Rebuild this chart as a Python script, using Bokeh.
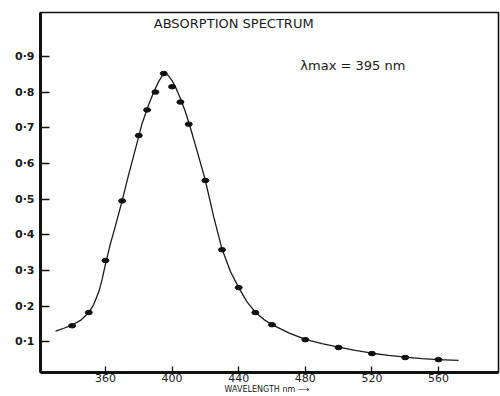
from bokeh.plotting import figure
from bokeh.models import Range1d, FixedTicker, Label
from bokeh.embed import file_html
from bokeh.resources import INLINE

# measured points (wavelength nm, absorbance)
pt_wl = [340, 350, 360, 370, 380, 385, 390, 395, 400, 405, 410, 420, 430, 440, 450, 460, 480, 500, 520, 540, 560]
pt_abs = [0.145, 0.182, 0.328, 0.495, 0.678, 0.750, 0.800, 0.852, 0.815, 0.772, 0.710, 0.552, 0.358, 0.252, 0.182, 0.148, 0.106, 0.084, 0.067, 0.056, 0.050]

# hand-drawn fitted curve
curve_wl = [330, 335, 340, 345, 350, 353, 356, 358, 360, 363, 366, 370, 374, 378, 382, 386, 389, 392, 394, 396,
            398, 400, 402, 405, 408, 411, 415, 420, 425, 430, 435, 440, 445, 450, 455, 460, 470, 480, 490, 500,
            510, 520, 530, 540, 550, 560, 572]
curve_abs = [0.130, 0.138, 0.147, 0.160, 0.182, 0.205, 0.240, 0.275, 0.318, 0.375, 0.425, 0.495, 0.570, 0.640, 0.712,
             0.765, 0.800, 0.830, 0.845, 0.852, 0.845, 0.832, 0.815, 0.782, 0.745, 0.700, 0.635, 0.552, 0.450, 0.360,
             0.298, 0.252, 0.212, 0.183, 0.163, 0.148, 0.125, 0.107, 0.095, 0.085, 0.076, 0.068, 0.062, 0.057,
             0.053, 0.050, 0.048]

y_ticks = [0.1, 0.2, 0.3, 0.4, 0.5, 0.6, 0.7, 0.8, 0.9]
y_labels = ["0·1", "0·2", "0·3", "0·4", "0·5", "0·6", "0·7", "0·8", "0·9"]
x_ticks = [360, 400, 440, 480, 520, 560]

title_text = "ABSORPTION SPECTRUM"
lmax_text = "λmax  =  395 nm"
xlabel_text = "WAVELENGTH  nm  ⟶"

p = figure(width=500, height=396, output_backend="svg", toolbar_location=None,
           x_range=Range1d(321, 596), y_range=Range1d(0.014, 1.023),
           min_border_left=40, min_border_right=2, min_border_top=12, min_border_bottom=0)

p.background_fill_color = "white"
p.border_fill_color = "white"
p.grid.visible = False
p.outline_line_color = "#111111"
p.outline_line_width = 1.6

p.yaxis.ticker = FixedTicker(ticks=y_ticks)
p.yaxis.major_label_overrides = {t: l for t, l in zip(y_ticks, y_labels)}
p.xaxis.ticker = FixedTicker(ticks=x_ticks)

for ax in (p.xaxis, p.yaxis):
    ax.axis_line_color = "#111111"
    ax.axis_line_width = 3
    ax.major_tick_out = 0
    ax.minor_tick_out = 0
    ax.minor_tick_in = 0
    ax.major_tick_line_color = "#111111"
    ax.major_tick_line_width = 1.3
    ax.major_label_text_color = "#1a1a1a"
    ax.major_label_text_font = "DejaVu Sans"

p.yaxis.major_tick_in = 9
p.yaxis.major_label_standoff = 6
p.yaxis.major_label_text_font_size = "11px"
p.yaxis.major_label_text_font_style = "bold"

p.xaxis.major_tick_in = 6
p.xaxis.major_label_standoff = 1
p.xaxis.major_label_text_font_size = "11px"
p.xaxis.axis_label = xlabel_text
p.xaxis.axis_label_standoff = 0
p.xaxis.axis_label_text_font = "DejaVu Sans"
p.xaxis.axis_label_text_font_style = "normal"
p.xaxis.axis_label_text_font_size = "8px"
p.xaxis.axis_label_text_color = "#1a1a1a"

p.line(curve_wl, curve_abs, line_color="#1a1a1a", line_width=1.3)
p.ellipse(pt_wl, pt_abs, width=7, height=4.5, width_units="screen", height_units="screen",
          fill_color="#111111", line_color="#111111")

p.add_layout(Label(x=437, y=0.992, text=title_text, text_align="center", text_baseline="middle",
                   text_font="DejaVu Sans", text_font_size="13px", text_color="#1a1a1a"))
p.add_layout(Label(x=477, y=0.874, text=lmax_text, text_align="left", text_baseline="middle",
                   text_font="DejaVu Sans", text_font_size="13px", text_color="#1a1a1a"))

open("out.html", "w").write(file_html(p, INLINE))
